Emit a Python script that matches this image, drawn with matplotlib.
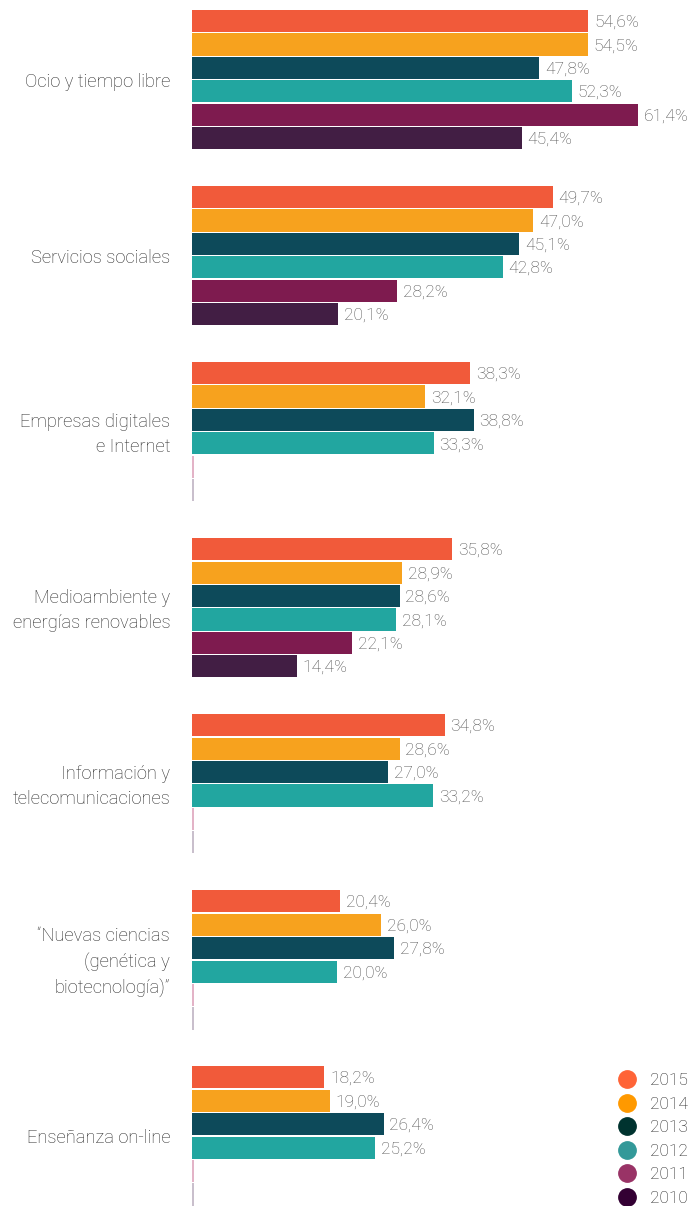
import numpy as np
import matplotlib.pyplot as plt
from matplotlib.lines import Line2D

categories = ['Ocio y tiempo libre', 'Servicios sociales', 'Empresas digitales\ne Internet',
              'Medioambiente y\nenergías renovables', 'Información y\ntelecomunicaciones',
              '“Nuevas ciencias\n(genética y\nbiotecnología)”', 'Enseñanza on-line']
years = ['2015', '2014', '2013', '2012', '2011', '2010']
v2015 = [54.6, 49.7, 38.3, 35.8, 34.8, 20.4, 18.2]
v2014 = [54.5, 47.0, 32.1, 28.9, 28.6, 26.0, 19.0]
v2013 = [47.8, 45.1, 38.8, 28.6, 27.0, 27.8, 26.4]
v2012 = [52.3, 42.8, 33.3, 28.1, 33.2, 20.0, 25.2]
v2011 = [61.4, 28.2, None, 22.1, None, None, None]
v2010 = [45.4, 20.1, None, 14.4, None, None, None]
series = [v2015, v2014, v2013, v2012, v2011, v2010]

bar_colors = ['#F15A3A', '#F7A21E', '#0D4A5A', '#22A6A0', '#7E1B4F', '#421E44']
legend_colors = ['#FF6437', '#FF9900', '#00332F', '#339999', '#993366', '#330033']
stub_colors = ['#F15A3A', '#F7A21E', '#0D4A5A', '#22A6A0', '#E3B3C7', '#C9BFCC']

plt.rcParams['font.family'] = ['Roboto', 'DejaVu Sans']

fig = plt.figure(figsize=(6.92, 12.06), dpi=100)
ax = fig.add_axes([192 / 692, 0, 500 / 692, 1])

pitch = 23.47
group_gap = 7.5
for i, vals in enumerate(series):
    for g, v in enumerate(vals):
        y = g * group_gap + i
        if v is None:
            ax.barh(y, 0.2, height=0.94, left=0.05, color=stub_colors[i])
            continue
        ax.barh(y, v, height=0.94, color=bar_colors[i])
        ax.text(v + 0.8, y + 0.05, f'{v:.1f}%'.replace('.', ','), va='center', ha='left',
                fontsize=12.5, color='#505050', fontweight='light')

for g, cat in enumerate(categories):
    ax.text(-3.0, g * group_gap + 2.6, cat, ha='right', va='center', fontsize=13.2,
            color='#2a2a2a', linespacing=1.5, fontweight='light')

ax.set_xlim(0, 500 / 7.26)
ax.set_ylim((1206 - 21) / pitch, -21 / pitch)
ax.axis('off')

handles = [Line2D([], [], marker='o', linestyle='none', markersize=12.5,
                  markerfacecolor=c, markeredgecolor=c) for c in legend_colors]
fig.legend(handles, years, loc='lower left', bbox_to_anchor=(604 / 692, -12 / 1206),
           frameon=False, handletextpad=0.75, labelspacing=0.48,
           labelcolor='#222222', borderpad=0.2, handlelength=1.2,
           prop={'weight': 'light', 'size': 12.5})

fig.savefig('out.png', dpi=100)
